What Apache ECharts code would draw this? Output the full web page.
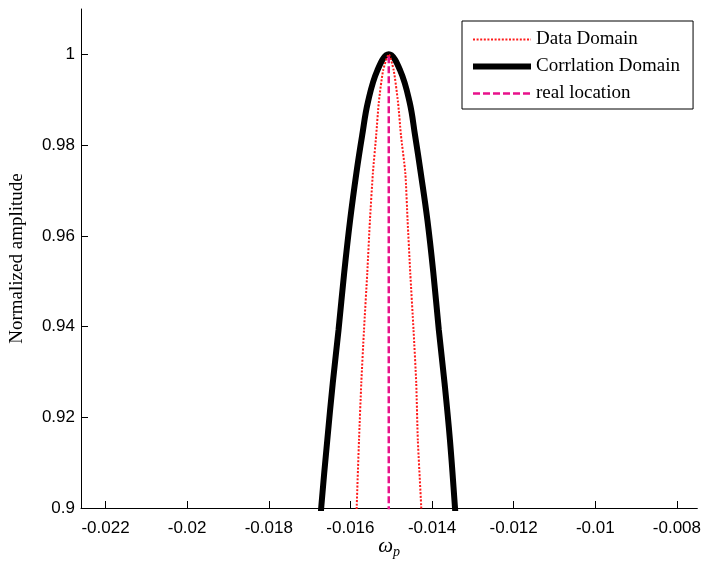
<!DOCTYPE html>
<html>
<head>
<meta charset="utf-8">
<script src="https://cdn.jsdelivr.net/npm/echarts@6/dist/echarts.min.js"></script>
<style>html,body{margin:0;padding:0;background:#fff}#c{width:704px;height:569px}</style>
</head>
<body>
<div id="c"></div>
<script>
// ---- data ----
const seriesNames = ['Data Domain', 'Corrlation Domain', 'real location'];

// Data Domain (red dotted)
const dataX = [-0.01586, -0.015845, -0.015789, -0.015733, -0.015667, -0.015587, -0.015521, -0.015449, -0.015368, -0.015303, -0.015198, -0.01506,
               -0.014939, -0.014834, -0.014761, -0.014654, -0.014599, -0.014533, -0.014453, -0.014387, -0.014348, -0.014266, -0.01425];
const dataY = [0.895, 0.9004, 0.91498, 0.92753, 0.93921, 0.95176, 0.96344, 0.97379, 0.98216, 0.98949, 0.99648, 1.0,
               0.99648, 0.98949, 0.98216, 0.97379, 0.96344, 0.95176, 0.93921, 0.92753, 0.91498, 0.9004, 0.895];

// Corrlation Domain (thick black)
const corrX = [-0.01675, -0.016712, -0.016566, -0.016432, -0.016291, -0.016153, -0.016007, -0.015854, -0.015711, -0.01557, -0.015339, -0.01506,
               -0.014781, -0.01455, -0.014416, -0.014275, -0.014113, -0.013967, -0.013833, -0.013693, -0.013561, -0.01344, -0.0134];
const corrY = [0.895, 0.9004, 0.91498, 0.92753, 0.93921, 0.95176, 0.96344, 0.97379, 0.98216, 0.98949, 0.99648, 1.0,
               0.99648, 0.98949, 0.98216, 0.97379, 0.96344, 0.95176, 0.93921, 0.92753, 0.91498, 0.9004, 0.895];

// real location (magenta dashed)
const realX = [-0.01506, -0.01506];
const realY = [0.89, 1.0];

// axes
const xTicks = [-0.022, -0.02, -0.018, -0.016, -0.014, -0.012, -0.01, -0.008];
const yTicks = [0.9, 0.92, 0.94, 0.96, 0.98, 1];
const xRange = [-0.0226, -0.0075];
const yRange = [0.9, 1.01];

function pairs(xs, ys) { return xs.map((x, i) => [x, ys[i]]); }
function fmt(v) { return String(parseFloat(Number(v).toPrecision(6))); }

const chart = echarts.init(document.getElementById('c'), null, { renderer: 'canvas' });
const sans = 'Liberation Sans';
const serif = 'Liberation Serif';

const RED = '#ff1a1a', BLACK = '#000', PINK = '#e8118a';
const redLine = { color: RED, width: 2, type: [2, 1.6] };
const blackLine = { color: BLACK, width: 6 };
const pinkLine = { color: PINK, width: 2.5, type: [7, 3] };

chart.setOption({
  animation: false,
  backgroundColor: '#fff',
  grid: { left: 80, right: 2, top: 9, bottom: 61, containLabel: false },
  legend: {
    orient: 'vertical',
    left: 462, top: 21,
    padding: [9, 13, 6, 8],
    itemWidth: 58, itemHeight: 16, itemGap: 8,
    borderColor: '#000', borderWidth: 1,
    backgroundColor: '#fff',
    itemStyle: { opacity: 0 },
    textStyle: { fontFamily: serif, fontSize: 19, color: '#000' },
    data: [
      { name: seriesNames[0], lineStyle: redLine, itemStyle: { opacity: 0 } },
      { name: seriesNames[1], lineStyle: blackLine, itemStyle: { opacity: 0 } },
      { name: seriesNames[2], lineStyle: pinkLine, itemStyle: { opacity: 0 } }
    ]
  },
  xAxis: {
    type: 'value',
    min: xRange[0], max: xRange[1],
    name: '{w|ω}{p|p}',
    nameLocation: 'middle',
    nameGap: 25,
    nameMoveOverlap: false,
    nameTextStyle: {
      rich: {
        w: { fontFamily: serif, fontStyle: 'italic', fontSize: 21, color: '#000' },
        p: { fontFamily: serif, fontStyle: 'italic', fontSize: 14, color: '#000', padding: [12, 0, 0, 0] }
      }
    },
    axisLine: { show: true, onZero: false, lineStyle: { color: '#000', width: 1 } },
    axisTick: { show: true, inside: true, length: 7, lineStyle: { color: '#000' }, customValues: xTicks },
    axisLabel: { customValues: xTicks, formatter: fmt, fontFamily: sans, fontSize: 17, color: '#000', margin: 12 },
    splitLine: { show: false }
  },
  yAxis: {
    type: 'value',
    min: yRange[0], max: yRange[1],
    name: 'Normalized amplitude',
    nameLocation: 'middle',
    nameGap: 54,
    nameMoveOverlap: false,
    nameTextStyle: { fontFamily: serif, fontSize: 19, color: '#000' },
    axisLine: { show: true, onZero: false, lineStyle: { color: '#000', width: 1 } },
    axisTick: { show: true, inside: true, length: 7, lineStyle: { color: '#000' }, customValues: yTicks },
    axisLabel: { customValues: yTicks, formatter: fmt, fontFamily: sans, fontSize: 17, color: '#000', margin: 6 },
    splitLine: { show: false }
  },
  series: [
    {
      name: seriesNames[0], type: 'line', data: pairs(dataX, dataY),
      symbol: 'none', smooth: 0.2, clip: true, z: 3,
      lineStyle: redLine,
      itemStyle: { color: RED }
    },
    {
      name: seriesNames[1], type: 'line', data: pairs(corrX, corrY),
      symbol: 'none', smooth: 0.4, clip: true, z: 2,
      lineStyle: blackLine,
      itemStyle: { color: BLACK }
    },
    {
      name: seriesNames[2], type: 'line', data: pairs(realX, realY),
      symbol: 'none', clip: true, z: 4,
      lineStyle: pinkLine,
      itemStyle: { color: PINK }
    }
  ]
});
</script>
</body>
</html>
